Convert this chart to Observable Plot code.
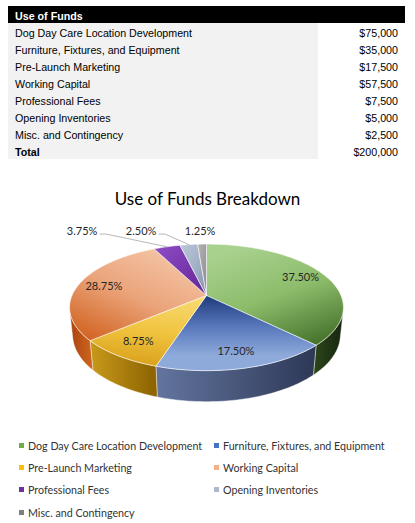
<!DOCTYPE html>
<html>
<head>
<meta charset="utf-8">
<script src="https://cdn.jsdelivr.net/npm/d3@7"></script>
<script src="https://cdn.jsdelivr.net/npm/@observablehq/plot@0.6"></script>
<style>
  body { margin: 0; background: #fff; }
  #page { position: relative; width: 415px; height: 523px; overflow: hidden; font-family: "Liberation Sans", Arial, sans-serif; }
  #tbl { position: absolute; left: 8px; top: 6px; width: 397px; border-collapse: collapse; table-layout: fixed; font-size: 10.7px; color: #000; }
  #tbl td { height: 13px; line-height: 13px; padding: 4px 0 0 0; white-space: nowrap; vertical-align: bottom; }
  #tbl td.lab { width: 303px; padding-left: 7px; background: #f2f2f2; }
  #tbl td.val { text-align: right; padding-right: 7px; background: #fff; }
  #tbl tr.head td { background: #000; color: #fff; font-weight: bold; }
  #tbl tr.total td.lab { font-weight: bold; }
  #title { position: absolute; left: 0; top: 189px; width: 415px; text-align: center; font: 17px Lato, sans-serif; line-height: 20px; color: #000; }
  #chart { position: absolute; left: 0; top: 215px; }
  #legend { position: absolute; left: 19px; top: 434px; display: grid; grid-template-columns: 195px 195px; grid-auto-rows: 22.4px; font: 10.7px Lato, sans-serif; color: #333; }
  #legend div { display: flex; align-items: center; white-space: nowrap; }
  #legend span.sw { width: 5px; height: 5px; margin-right: 4px; flex: none; }
</style>
</head>
<body>
<div id="page">
  <table id="tbl"></table>
  <div id="title">Use of Funds Breakdown</div>
  <div id="chart"></div>
  <div id="legend"></div>
</div>
<script>
const categories = [
  "Dog Day Care Location Development",
  "Furniture, Fixtures, and Equipment",
  "Pre-Launch Marketing",
  "Working Capital",
  "Professional Fees",
  "Opening Inventories",
  "Misc. and Contingency"
];
const amounts = [75000, 35000, 17500, 57500, 7500, 5000, 2500];
const legendColors = ["#70ad47", "#4472c4", "#ffc000", "#f4b183", "#7030a0", "#adb9ca", "#7f7f7f"];
// top face gradients [from, mid, to] and side wall gradients [left, right]
const topColors = [
  ["#a9d18e", "#8cbc6a", "#45722b"],
  ["#1d3a7a", "#5676bb", "#8eaadb"],
  ["#f8d86e", "#f0c440", "#d9a01a"],
  ["#f4c8aa", "#eba47a", "#d0601e"],
  ["#8d4cc4", "#7a38ae", "#642894"],
  ["#bcc7d9", "#a3b1c8", "#8091ad"],
  ["#b4b4b4", "#a0a0a0", "#8a8a8a"]
];
const wallColors = [
  ["#2c4619", "#172510"],
  ["#63759f", "#2d3856"],
  ["#c89a1a", "#8a6200"],
  ["#a84410", "#d0661f"],
  ["#5a2080", "#4a1870"],
  ["#7a8aa4", "#6a7a94"],
  ["#808080", "#6a6a6a"]
];

const total = d3.sum(amounts);
const money = d3.format("$,");

// table
const tbl = d3.select("#tbl");
const head = tbl.append("tr").attr("class", "head");
head.append("td").attr("class", "lab").text("Use of Funds");
head.append("td").attr("class", "val");
categories.forEach((c, i) => {
  const tr = tbl.append("tr");
  tr.append("td").attr("class", "lab").text(c);
  tr.append("td").attr("class", "val").text(money(amounts[i]));
});
const tot = tbl.append("tr").attr("class", "total");
tot.append("td").attr("class", "lab").text("Total");
tot.append("td").attr("class", "val").text(money(total));

// 3d pie projection (perspective, camera tilted down)
const theta = 27 * Math.PI / 180, sn = Math.sin(theta), cs = Math.cos(theta);
const D = 4.76, depthH = 0.23;
function proj(a, r, top) {
  const X = r * Math.sin(a), Z = r * Math.cos(a), Y = top ? 0 : -depthH;
  const dist = D + Z * cs - Y * sn;
  return {x: X * D / dist, y: (Y * cs + Z * sn) * D / dist};
}
const step = Math.PI / 180;
function arc(a0, a1, top) {
  const n = Math.max(2, Math.ceil(Math.abs(a1 - a0) / step));
  return d3.range(n + 1).map(k => proj(a0 + (a1 - a0) * k / n, 1, top));
}

const arcs = d3.pie().sort(null).value(d => d)(amounts);
const aVis = Math.acos(-1 / (D * cs)); // silhouette of the side wall
const topPts = [], wallPts = [];
arcs.forEach((p, i) => {
  const pts = [{x: 0, y: 0}, ...arc(p.startAngle, p.endAngle, true), {x: 0, y: 0}];
  pts.forEach(q => topPts.push({...q, id: i, fill: `url(#gt${i})`}));
  const b0 = Math.max(p.startAngle, aVis), b1 = Math.min(p.endAngle, 2 * Math.PI - aVis);
  if (b1 > b0) {
    const w = [...arc(b0, b1, true), ...arc(b1, b0, false)];
    w.push(w[0]);
    w.forEach(q => wallPts.push({...q, id: i, fill: `url(#gw${i})`}));
  }
});

// data labels: inside for big slices, above with leaders for small ones
const pct = v => (v / total * 100).toFixed(2) + "%";
const R = 134.5, cx = 206, cy = 80;
const labels = [], leaders = [];
const small = [];
arcs.forEach((p, i) => {
  const mid = (p.startAngle + p.endAngle) / 2;
  if (p.value / total >= 0.05) {
    labels.push({...proj(mid, 0.8, true), text: pct(p.value)});
  } else {
    small.push({i, mid, value: p.value});
  }
});
const labelY = proj(0, 1, true).y + 13 / R;
const halfW = 15 / R, gap = 29 / R;
let prevLeft = Infinity;
small.reverse().forEach(d => {
  const rim = proj(d.mid, 1, true);
  const x = Math.min(rim.x - 2 / R, prevLeft - gap - halfW);
  prevLeft = x - halfW;
  labels.push({x, y: labelY, text: pct(d.value)});
  if (rim.x - x > 20 / R) {
    const sx = x + halfW + 3 / R, sy = labelY - 3 / R;
    [{x: sx, y: sy}, {x: sx + 6 / R, y: sy}, rim].forEach(q => leaders.push({...q, id: d.i}));
  }
});

const chart = Plot.plot({
  width: 415,
  height: 200,
  margin: 0,
  x: {domain: [-1, 1], range: [cx - R, cx + R], axis: null},
  y: {domain: [-1, 1], range: [cy + R, cy - R], axis: null},
  color: {type: "identity"},
  marks: [
    Plot.line(wallPts, {x: "x", y: "y", z: "id", fill: "fill", stroke: "#fff", strokeWidth: 0.6, strokeOpacity: 0.7}),
    Plot.line(topPts, {x: "x", y: "y", z: "id", fill: "fill", stroke: "#fff", strokeWidth: 0.7, strokeOpacity: 0.8}),
    Plot.line(leaders, {x: "x", y: "y", z: "id", stroke: "#a6a6a6", strokeWidth: 0.8}),
    Plot.text(labels, {x: "x", y: "y", text: "text", fontSize: 11, fontFamily: "Lato", fill: "#262626"})
  ]
});

// gradients
const defs = d3.select(chart).insert("defs", ":first-child");
topColors.forEach((cols, i) => {
  const dir = [[0.3, 0, 0.8, 1], [0.5, 0, 0.5, 0.8], [0.6, 0, 0.4, 1], [0.8, 0, 0.1, 1], [0, 0, 1, 1], [0, 0, 1, 1], [0, 0, 1, 1]][i];
  const g = defs.append("linearGradient").attr("id", `gt${i}`)
    .attr("x1", dir[0]).attr("y1", dir[1]).attr("x2", dir[2]).attr("y2", dir[3]);
  cols.forEach((c, k) => g.append("stop").attr("offset", k / (cols.length - 1)).attr("stop-color", c));
});
wallColors.forEach((cols, i) => {
  const g = defs.append("linearGradient").attr("id", `gw${i}`).attr("x1", 0).attr("y1", 0).attr("x2", 1).attr("y2", 0);
  cols.forEach((c, k) => g.append("stop").attr("offset", k).attr("stop-color", c));
});
d3.select("#chart").append(() => chart);

// legend
const lg = d3.select("#legend");
categories.forEach((c, i) => {
  const item = lg.append("div");
  item.append("span").attr("class", "sw").style("background", legendColors[i]);
  item.append("span").text(c);
});
</script>
</body>
</html>
